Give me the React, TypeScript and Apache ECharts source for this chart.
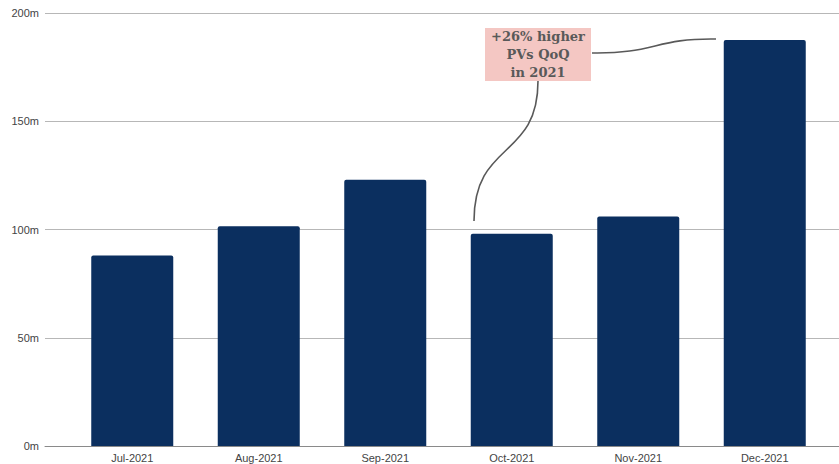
import React, { useEffect, useRef } from "react";
import * as echarts from "echarts";

const categories = ["Jul-2021", "Aug-2021", "Sep-2021", "Oct-2021", "Nov-2021", "Dec-2021"];
const pageViews = [88, 101.5, 123, 98, 106, 187.5];
const yTicks = [0, 50, 100, 150, 200];
const annotationLines = ["+26% higher", "PVs QoQ", "in 2021"];

export default function App() {
  const ref = useRef<HTMLDivElement>(null);
  useEffect(() => {
    document.body.style.margin = "0";
    const chart = echarts.init(ref.current!, null, { renderer: "svg" });
    const labelStyle = { color: "#444", fontSize: 11, fontFamily: "Liberation Sans, Arial, sans-serif" };
    chart.setOption({
      animation: false,
      grid: [
        { left: 45, right: 0, top: 13, bottom: 18 },
        { left: 69, right: 11, top: 13, bottom: 18 },
      ],
      xAxis: [
        {
          type: "category",
          gridIndex: 0,
          data: categories,
          axisLabel: { show: false },
          axisTick: { show: false },
          axisLine: { show: true, lineStyle: { color: "#8a8a8a", width: 1 } },
          splitLine: { show: false },
        },
        {
          type: "category",
          gridIndex: 1,
          data: categories,
          axisLabel: { ...labelStyle, margin: 6 },
          axisTick: { show: false },
          axisLine: { show: false },
        },
      ],
      yAxis: [
        {
          type: "value",
          gridIndex: 0,
          min: yTicks[0],
          max: yTicks[yTicks.length - 1],
          interval: 50,
          axisLabel: { ...labelStyle, margin: 6, formatter: (v: number) => v + "m" },
          axisLine: { show: false },
          axisTick: { show: false },
          splitLine: { show: true, lineStyle: { color: "#b7b7b7", width: 1 } },
        },
        {
          type: "value",
          gridIndex: 1,
          min: yTicks[0],
          max: yTicks[yTicks.length - 1],
          interval: 50,
          show: false,
          splitLine: { show: false },
        },
      ],
      series: [
        {
          type: "bar",
          xAxisIndex: 1,
          yAxisIndex: 1,
          data: pageViews,
          barWidth: 82,
          itemStyle: { color: "#0b2f5f", borderRadius: [2, 2, 0, 0] },
          z: 3,
        },
      ],
      graphic: [
        {
          type: "rect",
          shape: { x: 485, y: 28, width: 106, height: 53 },
          style: { fill: "#f4c7c3" },
          z: 10,
        },
        {
          type: "text",
          x: 538,
          y: 54.5,
          z: 11,
          style: {
            text: annotationLines.join("\n"),
            align: "center",
            verticalAlign: "middle",
            fill: "#595959",
            font: "bold 13px 'DejaVu Serif', serif",
            lineHeight: 18,
          },
        },
        {
          type: "bezierCurve",
          z: 10,
          shape: { x1: 538, y1: 81, cpx1: 538, cpy1: 160, cpx2: 474, cpy2: 140, x2: 474, y2: 221 },
          style: { stroke: "#595959", lineWidth: 1.6, fill: "none" },
        },
        {
          type: "bezierCurve",
          z: 10,
          shape: { x1: 592, y1: 53, cpx1: 655, cpy1: 54, cpx2: 655, cpy2: 38, x2: 716, y2: 39 },
          style: { stroke: "#595959", lineWidth: 1.6, fill: "none" },
        },
      ],
    });
    return () => chart.dispose();
  }, []);
  return <div ref={ref} style={{ width: 839, height: 464 }} />;
}
